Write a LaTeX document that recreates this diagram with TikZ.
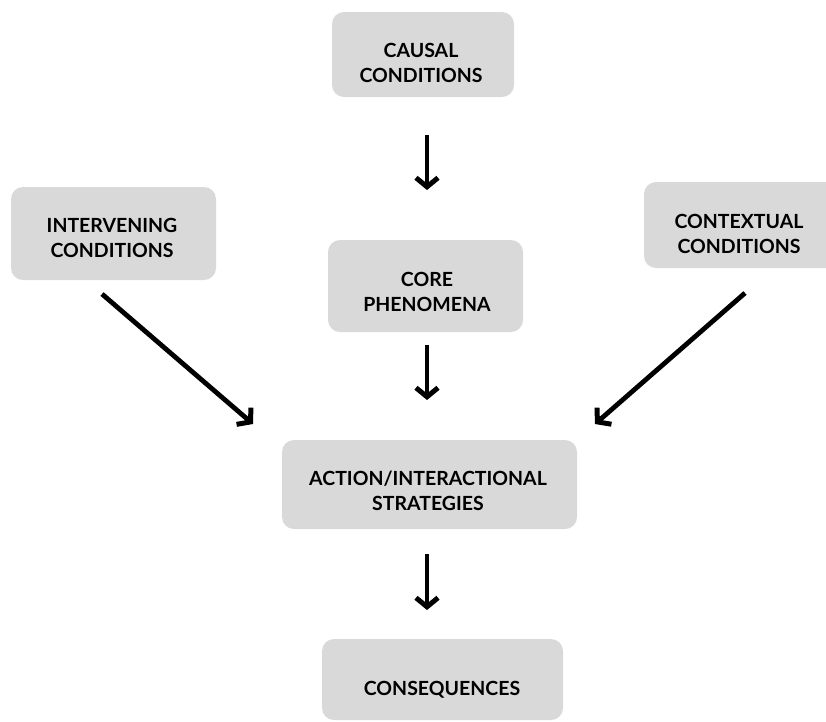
\documentclass[tikz,border=0pt]{standalone}
\usepackage{fontspec}
\setmainfont{Lato}
\usetikzlibrary{arrows.meta}
\begin{document}
\begin{tikzpicture}[x=1pt,y=-1pt,
  box/.style={fill=boxgray,rounded corners=12pt,draw=none},
  lbl/.style={align=center,font=\fontsize{19.5}{25}\selectfont\bfseries,inner sep=0pt},
  flow/.style={line width=4.8pt,-{Straight Barb[length=9pt,width=22pt,line width=5pt]}}
]
\definecolor{boxgray}{HTML}{D9D9D9}
\useasboundingbox (0,0) rectangle (826,721);

% boxes
\fill[box] (332,12) rectangle (514,97);
\fill[box] (11,187) rectangle (216,280);
\fill[box] (644,182) rectangle (840,268);
\fill[box] (328,240) rectangle (523,332);
\fill[box] (282,440) rectangle (577,529);
\fill[box] (322,639) rectangle (563,720);

% labels
\node[lbl] (causal) at (421,63) {CAUSAL\\CONDITIONS};
\node[lbl] (interv) at (112,238) {INTERVENING\\CONDITIONS};
\node[lbl] (context) at (739,234) {CONTEXTUAL\\CONDITIONS};
\node[lbl] (core) at (427,292) {CORE\\PHENOMENA};
\node[lbl] (action) at (428,491) {ACTION/INTERACTIONAL\\STRATEGIES};
\node[lbl] (conseq) at (442,690) {CONSEQUENCES};

% arrow end points
\coordinate (c1) at (427,135); \coordinate (c2) at (427,190);
\coordinate (p1) at (427,345); \coordinate (p2) at (427,400);
\coordinate (s1) at (427,554); \coordinate (s2) at (427,610);
\coordinate (i1) at (102,294); \coordinate (i2) at (253,424);
\coordinate (x1) at (745,293); \coordinate (x2) at (595,424);

% connectors
\foreach \a/\b in {c1/c2,p1/p2,s1/s2,i1/i2,x1/x2}{
  \draw[flow] (\a) -- (\b);
}
\end{tikzpicture}
\end{document}
